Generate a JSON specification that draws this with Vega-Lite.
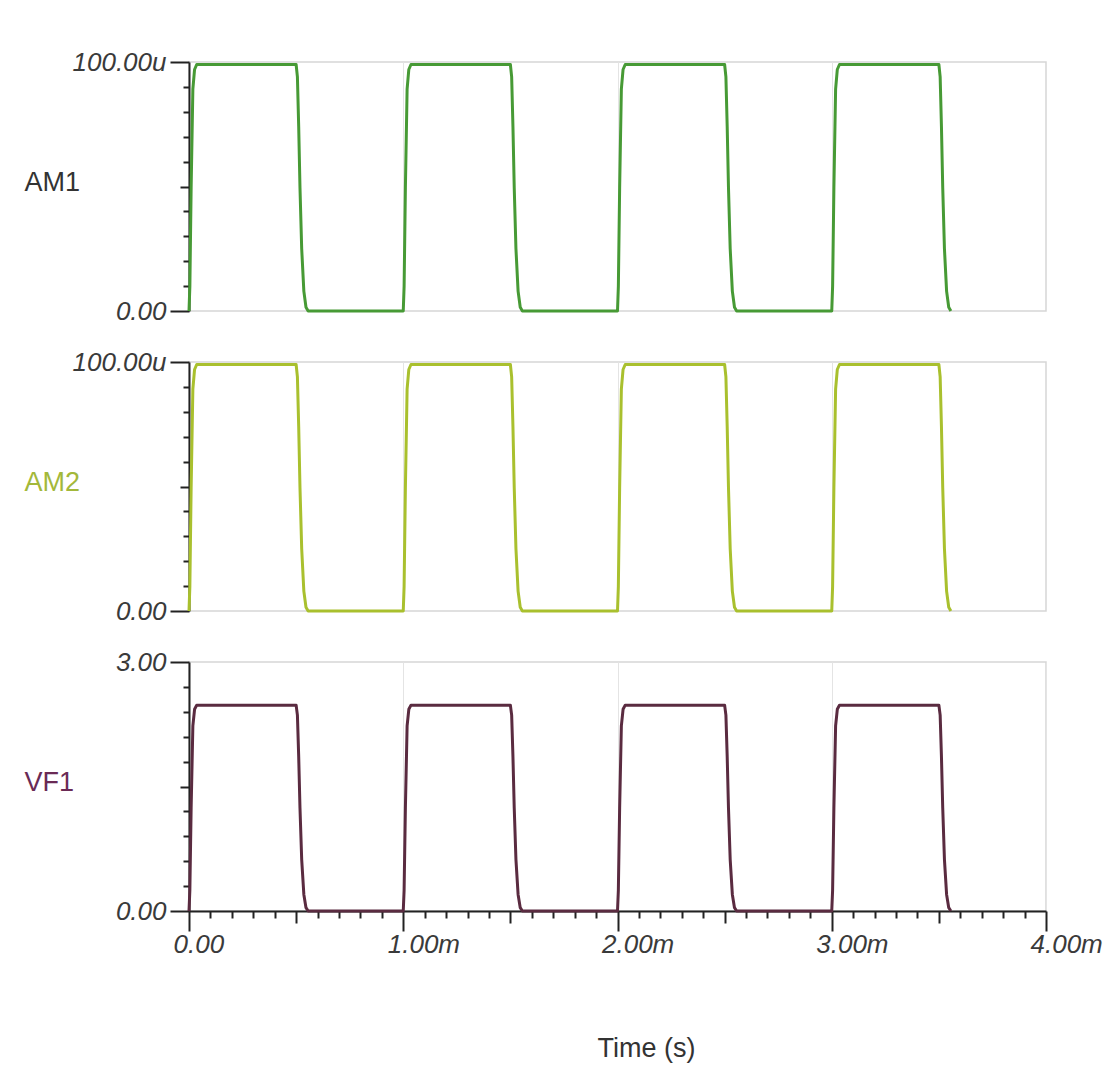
{
  "$schema": "https://vega.github.io/schema/vega-lite/v6.json",
  "background": "white",
  "padding": {"left": 23, "top": 48, "right": 5, "bottom": 5},
  "spacing": 51,
  "bounds": "flush",
  "config": {
    "font": "Liberation Sans",
    "view": {"stroke": "#d6d6d6", "strokeWidth": 1.5},
    "axis": {
      "labelFont": "Liberation Sans",
      "titleFont": "Liberation Sans",
      "labelFontStyle": "italic",
      "labelFontSize": 26,
      "labelColor": "#3a3a3a",
      "titleFontSize": 27,
      "titleFontWeight": "normal",
      "titleColor": "#333333",
      "domainColor": "#222222",
      "domainWidth": 2,
      "tickColor": "#222222",
      "tickWidth": 2,
      "labelOverlap": false,
      "labelBound": false,
      "labelFlush": false,
      "gridColor": "#e4e4e4",
      "gridWidth": 1
    }
  },
  "data": {
    "values": [
      {"time_s": 0, "AM1": 0, "AM2": 0, "VF1": 0},
      {"time_s": 0.000004, "AM1": 9.9e-6, "AM2": 9.9e-6, "VF1": 0.25},
      {"time_s": 0.00001, "AM1": 4.95e-5, "AM2": 4.95e-5, "VF1": 1.24},
      {"time_s": 0.000018, "AM1": 8.91e-5, "AM2": 8.91e-5, "VF1": 2.23},
      {"time_s": 0.000026, "AM1": 9.7e-5, "AM2": 9.7e-5, "VF1": 2.43},
      {"time_s": 0.000036, "AM1": 9.9e-5, "AM2": 9.9e-5, "VF1": 2.48},
      {"time_s": 0.0005, "AM1": 9.9e-5, "AM2": 9.9e-5, "VF1": 2.48},
      {"time_s": 0.000506, "AM1": 9.4e-5, "AM2": 9.4e-5, "VF1": 2.36},
      {"time_s": 0.000512, "AM1": 7.4e-5, "AM2": 7.4e-5, "VF1": 1.86},
      {"time_s": 0.000518, "AM1": 4.95e-5, "AM2": 4.95e-5, "VF1": 1.24},
      {"time_s": 0.000526, "AM1": 2.5e-5, "AM2": 2.5e-5, "VF1": 0.62},
      {"time_s": 0.000536, "AM1": 8e-6, "AM2": 8e-6, "VF1": 0.2},
      {"time_s": 0.000546, "AM1": 1.5e-6, "AM2": 1.5e-6, "VF1": 0.04},
      {"time_s": 0.000556, "AM1": 0, "AM2": 0, "VF1": 0},
      {"time_s": 0.001, "AM1": 0, "AM2": 0, "VF1": 0},
      {"time_s": 0.001004, "AM1": 9.9e-6, "AM2": 9.9e-6, "VF1": 0.25},
      {"time_s": 0.00101, "AM1": 4.95e-5, "AM2": 4.95e-5, "VF1": 1.24},
      {"time_s": 0.001018, "AM1": 8.91e-5, "AM2": 8.91e-5, "VF1": 2.23},
      {"time_s": 0.001026, "AM1": 9.7e-5, "AM2": 9.7e-5, "VF1": 2.43},
      {"time_s": 0.001036, "AM1": 9.9e-5, "AM2": 9.9e-5, "VF1": 2.48},
      {"time_s": 0.0015, "AM1": 9.9e-5, "AM2": 9.9e-5, "VF1": 2.48},
      {"time_s": 0.001506, "AM1": 9.4e-5, "AM2": 9.4e-5, "VF1": 2.36},
      {"time_s": 0.001512, "AM1": 7.4e-5, "AM2": 7.4e-5, "VF1": 1.86},
      {"time_s": 0.001518, "AM1": 4.95e-5, "AM2": 4.95e-5, "VF1": 1.24},
      {"time_s": 0.001526, "AM1": 2.5e-5, "AM2": 2.5e-5, "VF1": 0.62},
      {"time_s": 0.001536, "AM1": 8e-6, "AM2": 8e-6, "VF1": 0.2},
      {"time_s": 0.001546, "AM1": 1.5e-6, "AM2": 1.5e-6, "VF1": 0.04},
      {"time_s": 0.001556, "AM1": 0, "AM2": 0, "VF1": 0},
      {"time_s": 0.002, "AM1": 0, "AM2": 0, "VF1": 0},
      {"time_s": 0.002004, "AM1": 9.9e-6, "AM2": 9.9e-6, "VF1": 0.25},
      {"time_s": 0.00201, "AM1": 4.95e-5, "AM2": 4.95e-5, "VF1": 1.24},
      {"time_s": 0.002018, "AM1": 8.91e-5, "AM2": 8.91e-5, "VF1": 2.23},
      {"time_s": 0.002026, "AM1": 9.7e-5, "AM2": 9.7e-5, "VF1": 2.43},
      {"time_s": 0.002036, "AM1": 9.9e-5, "AM2": 9.9e-5, "VF1": 2.48},
      {"time_s": 0.0025, "AM1": 9.9e-5, "AM2": 9.9e-5, "VF1": 2.48},
      {"time_s": 0.002506, "AM1": 9.4e-5, "AM2": 9.4e-5, "VF1": 2.36},
      {"time_s": 0.002512, "AM1": 7.4e-5, "AM2": 7.4e-5, "VF1": 1.86},
      {"time_s": 0.002518, "AM1": 4.95e-5, "AM2": 4.95e-5, "VF1": 1.24},
      {"time_s": 0.002526, "AM1": 2.5e-5, "AM2": 2.5e-5, "VF1": 0.62},
      {"time_s": 0.002536, "AM1": 8e-6, "AM2": 8e-6, "VF1": 0.2},
      {"time_s": 0.002546, "AM1": 1.5e-6, "AM2": 1.5e-6, "VF1": 0.04},
      {"time_s": 0.002556, "AM1": 0, "AM2": 0, "VF1": 0},
      {"time_s": 0.003, "AM1": 0, "AM2": 0, "VF1": 0},
      {"time_s": 0.003004, "AM1": 9.9e-6, "AM2": 9.9e-6, "VF1": 0.25},
      {"time_s": 0.00301, "AM1": 4.95e-5, "AM2": 4.95e-5, "VF1": 1.24},
      {"time_s": 0.003018, "AM1": 8.91e-5, "AM2": 8.91e-5, "VF1": 2.23},
      {"time_s": 0.003026, "AM1": 9.7e-5, "AM2": 9.7e-5, "VF1": 2.43},
      {"time_s": 0.003036, "AM1": 9.9e-5, "AM2": 9.9e-5, "VF1": 2.48},
      {"time_s": 0.0035, "AM1": 9.9e-5, "AM2": 9.9e-5, "VF1": 2.48},
      {"time_s": 0.003506, "AM1": 9.4e-5, "AM2": 9.4e-5, "VF1": 2.36},
      {"time_s": 0.003512, "AM1": 7.4e-5, "AM2": 7.4e-5, "VF1": 1.86},
      {"time_s": 0.003518, "AM1": 4.95e-5, "AM2": 4.95e-5, "VF1": 1.24},
      {"time_s": 0.003526, "AM1": 2.5e-5, "AM2": 2.5e-5, "VF1": 0.62},
      {"time_s": 0.003536, "AM1": 8e-6, "AM2": 8e-6, "VF1": 0.2},
      {"time_s": 0.003546, "AM1": 1.5e-6, "AM2": 1.5e-6, "VF1": 0.04},
      {"time_s": 0.003556, "AM1": 0, "AM2": 0, "VF1": 0}
    ]
  },
  "vconcat": [
    {
      "width": 857,
      "height": 249,
      "mark": {"type": "line", "color": "#479a35", "strokeWidth": 3, "strokeJoin": "round", "clip": false},
      "encoding": {
        "x": {
          "field": "time_s", "type": "quantitative",
          "scale": {"domain": [0, 0.004], "nice": false},
          "axis": {"values": [0.001, 0.002, 0.003], "labels": false, "ticks": false, "domain": false, "grid": true, "title": null}
        },
        "y": {
          "field": "AM1", "type": "quantitative",
          "scale": {"domain": [0, 0.0001], "nice": false},
          "axis": {
            "values": [0, 0.00001, 0.00002, 0.00003, 0.00004, 0.00005, 0.00006, 0.00007, 0.00008, 0.00009, 0.0001],
            "grid": false,
            "labelExpr": "datum.value < 1e-9 ? '0.00' : (datum.value > 9.9e-5 ? format(datum.value * 1e6, '.2f') + 'u' : '')",
            "labelPadding": 4,
            "tickSize": {"condition": [{"test": "datum.value < 1e-9 || datum.value > 9.9e-5", "value": 19}, {"test": "abs(datum.value - 5e-5) < 1e-9", "value": 9}], "value": 6},
            "title": "AM1", "titleAngle": 0, "titleAlign": "left", "titleBaseline": "middle",
            "titleX": -165, "titleY": 120, "titleColor": "#333333"
          }
        }
      }
    },
    {
      "width": 857,
      "height": 249,
      "mark": {"type": "line", "color": "#a9c02e", "strokeWidth": 3, "strokeJoin": "round", "clip": false},
      "encoding": {
        "x": {
          "field": "time_s", "type": "quantitative",
          "scale": {"domain": [0, 0.004], "nice": false},
          "axis": {"values": [0.001, 0.002, 0.003], "labels": false, "ticks": false, "domain": false, "grid": true, "title": null}
        },
        "y": {
          "field": "AM2", "type": "quantitative",
          "scale": {"domain": [0, 0.0001], "nice": false},
          "axis": {
            "values": [0, 0.00001, 0.00002, 0.00003, 0.00004, 0.00005, 0.00006, 0.00007, 0.00008, 0.00009, 0.0001],
            "grid": false,
            "labelExpr": "datum.value < 1e-9 ? '0.00' : (datum.value > 9.9e-5 ? format(datum.value * 1e6, '.2f') + 'u' : '')",
            "labelPadding": 4,
            "tickSize": {"condition": [{"test": "datum.value < 1e-9 || datum.value > 9.9e-5", "value": 19}, {"test": "abs(datum.value - 5e-5) < 1e-9", "value": 9}], "value": 6},
            "title": "AM2", "titleAngle": 0, "titleAlign": "left", "titleBaseline": "middle",
            "titleX": -165, "titleY": 120, "titleColor": "#a3b83a"
          }
        }
      }
    },
    {
      "width": 857,
      "height": 249,
      "mark": {"type": "line", "color": "#5a2b40", "strokeWidth": 3, "strokeJoin": "round", "clip": false},
      "encoding": {
        "x": {
          "field": "time_s", "type": "quantitative",
          "scale": {"domain": [0, 0.004], "nice": false},
          "axis": {
            "values": [0, 0.0001, 0.0002, 0.0003, 0.0004, 0.0005, 0.0006, 0.0007, 0.0008, 0.0009, 0.001, 0.0011, 0.0012, 0.0013, 0.0014, 0.0015, 0.0016, 0.0017, 0.0018, 0.0019, 0.002, 0.0021, 0.0022, 0.0023, 0.0024, 0.0025, 0.0026, 0.0027, 0.0028, 0.0029, 0.003, 0.0031, 0.0032, 0.0033, 0.0034, 0.0035, 0.0036, 0.0037, 0.0038, 0.0039, 0.004],
            "grid": true,
            "gridOpacity": {"condition": {"test": "abs(datum.value * 1000 - round(datum.value * 1000)) < 1e-6", "value": 1}, "value": 0},
            "labelExpr": "abs(datum.value * 1000 - round(datum.value * 1000)) < 1e-6 ? (datum.value < 1e-9 ? '0.00' : format(datum.value * 1000, '.2f') + 'm') : ''",
            "labelAlign": "left",
            "labelOffset": -16,
            "labelPadding": 0,
            "tickSize": {"condition": [{"test": "abs(datum.value * 1000 - round(datum.value * 1000)) < 1e-6", "value": 20}, {"test": "abs(datum.value * 2000 - round(datum.value * 2000)) < 1e-6", "value": 12}], "value": 7},
            "title": "Time (s)", "titleAlign": "center", "titleBaseline": "middle",
            "titleX": 457, "titleY": 137, "titleFontStyle": "normal"
          }
        },
        "y": {
          "field": "VF1", "type": "quantitative",
          "scale": {"domain": [0, 3], "nice": false},
          "axis": {
            "values": [0, 0.3, 0.6, 0.9, 1.2, 1.5, 1.8, 2.1, 2.4, 2.7, 3.0],
            "grid": false,
            "labelExpr": "datum.value < 1e-6 || datum.value > 2.99 ? format(datum.value, '.2f') : ''",
            "labelPadding": 4,
            "tickSize": {"condition": [{"test": "datum.value < 1e-6 || datum.value > 2.99", "value": 19}, {"test": "abs(datum.value - 1.5) < 1e-6", "value": 9}], "value": 6},
            "title": "VF1", "titleAngle": 0, "titleAlign": "left", "titleBaseline": "middle",
            "titleX": -165, "titleY": 120, "titleColor": "#6a2a55"
          }
        }
      }
    }
  ]
}
